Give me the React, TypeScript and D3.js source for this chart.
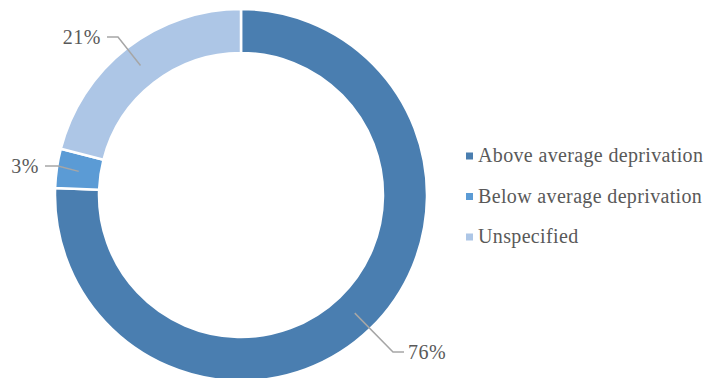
import React from "react";
import * as d3 from "d3";

const categories = ["Above average deprivation", "Below average deprivation", "Unspecified"];
const values = [75.6, 3.4, 21.0];
const labels = ["76%", "3%", "21%"];
const colors = ["#4a7eb0", "#5b9bd5", "#adc6e6"];

const W = 710, H = 378;
const cx = 241, cy = 195, rOuter = 186, rInner = 142;
const FONT = "Liberation Serif";

export default function App() {
  const pie = d3.pie<number>().sort(null).value((d) => d)(values);
  const arc = d3.arc<d3.PieArcDatum<number>>().innerRadius(rInner).outerRadius(rOuter);
  const mid = d3.arc<d3.PieArcDatum<number>>().innerRadius((rInner + rOuter) / 2).outerRadius((rInner + rOuter) / 2);

  const labelPos = [
    { elbow: [393, 352], end: [404, 352], tx: 408, ty: 359, anchor: "start" },
    { elbow: [58, 166], end: [45, 166], tx: 39, ty: 173, anchor: "end" },
    { elbow: [118, 37], end: [107, 37], tx: 101, ty: 44, anchor: "end" },
  ];

  const legendY = d3.scalePoint<string>().domain(categories).range([156, 237]);

  return (
    <svg width={W} height={H} style={{ position: "absolute", left: 0, top: 0, background: "#fff" }}>
      <g transform={`translate(${cx},${cy})`}>
        {pie.map((p, i) => (
          <path key={i} d={arc(p) || ""} fill={colors[i]} stroke="#fff" strokeWidth={2.5} />
        ))}
      </g>
      {pie.map((p, i) => {
        const c = mid.centroid(p);
        const lp = labelPos[i];
        return (
          <g key={i}>
            <polyline
              points={`${cx + c[0]},${cy + c[1]} ${lp.elbow[0]},${lp.elbow[1]} ${lp.end[0]},${lp.end[1]}`}
              fill="none" stroke="#a6a6a6" strokeWidth={1.5} />
            <text x={lp.tx} y={lp.ty} textAnchor={lp.anchor as any} style={{ fontFamily: FONT, fontSize: 20, letterSpacing: "0.5px" }} fill="#595959">{labels[i]}</text>
          </g>
        );
      })}
      {categories.map((c, i) => (
        <g key={c}>
          <rect x={466} y={(legendY(c) as number) - 3.5} width={7} height={7} fill={colors[i]} />
          <text x={478} y={(legendY(c) as number) + 6} style={{ fontFamily: FONT, fontSize: 20, letterSpacing: "0.35px" }} fill="#595959">{c}</text>
        </g>
      ))}
    </svg>
  );
}
